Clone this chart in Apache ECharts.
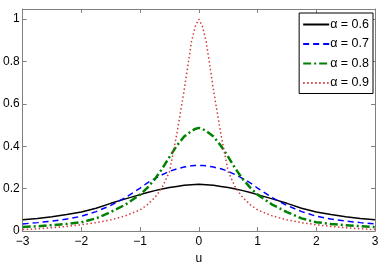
<!DOCTYPE html>
<html>
<head>
<meta charset="utf-8">
<script src="https://cdn.jsdelivr.net/npm/echarts@6/dist/echarts.min.js"></script>
<style>html,body{margin:0;padding:0;background:#fff}#c{width:382px;height:270px}</style>
</head>
<body>
<div id="c"></div>
<script>
// u grid (left half, mirrored below)
var uHalf = [-3, -2.75, -2.5, -2.25, -2, -1.75, -1.5, -1.25, -1, -0.875, -0.75, -0.625, -0.5, -0.375, -0.25, -0.125, -0.0625, 0];
var a06Half = [0.053, 0.060, 0.068, 0.078, 0.090, 0.108, 0.131, 0.152, 0.172, 0.182, 0.191, 0.199, 0.206, 0.211, 0.216, 0.219, 0.220, 0.221];
var a07Half = [0.034, 0.040, 0.047, 0.057, 0.070, 0.092, 0.121, 0.158, 0.203, 0.228, 0.248, 0.266, 0.282, 0.294, 0.302, 0.308, 0.309, 0.310];
var a08Half = [0.019, 0.023, 0.028, 0.034, 0.042, 0.060, 0.090, 0.125, 0.172, 0.205, 0.245, 0.294, 0.350, 0.403, 0.446, 0.472, 0.482, 0.487];
var a09Half = [0.007, 0.011, 0.016, 0.022, 0.030, 0.040, 0.053, 0.072, 0.100, 0.125, 0.158, 0.205, 0.280, 0.458, 0.665, 0.894, 0.965, 1.000];
var legendNames = ['α = 0.6', 'α = 0.7', 'α = 0.8', 'α = 0.9'];
var yTicks = [0, 0.2, 0.4, 0.6, 0.8, 1];

function full(half) {
  var out = half.slice();
  for (var i = half.length - 2; i >= 0; i--) out.push(half[i]);
  return out;
}
var uFull = uHalf.slice();
for (var i = uHalf.length - 2; i >= 0; i--) uFull.push(-uHalf[i]);

function pairs(vals) { return uFull.map(function (u, i) { return [u, vals[i]]; }); }

var axisGray = '#808080';
var font = 'Liberation Sans, Arial, sans-serif';
var chart = echarts.init(document.getElementById('c'), null, {renderer: 'canvas'});

function mkSeries(name, vals, color, width, type) {
  return {
    name: name, type: 'line', data: pairs(full(vals)), showSymbol: false, symbol: 'none',
    lineStyle: {color: color, width: width, type: type}, itemStyle: {color: color},
    xAxisIndex: 0, yAxisIndex: 0, animation: false, z: 3
  };
}
function axisCommon() {
  return {
    axisLine: {show: true, onZero: false, lineStyle: {color: axisGray}},
    axisTick: {show: true, inside: true, length: 4, lineStyle: {color: axisGray}},
    splitLine: {show: false}
  };
}

var xMain = Object.assign(axisCommon(), {
  type: 'value', min: -3, max: 3, interval: 1, position: 'bottom',
  name: 'u', nameLocation: 'middle', nameGap: 21,
  nameTextStyle: {fontFamily: font, fontSize: 12, color: '#000'},
  axisLabel: {fontFamily: font, fontSize: 12, color: '#000', margin: 5,
    formatter: function (v) { return String(v).replace('-', '−'); }}
});
var xTop = Object.assign(axisCommon(), {
  type: 'value', min: -3, max: 3, interval: 1, position: 'top', axisLabel: {show: false}
});
var yMain = Object.assign(axisCommon(), {
  type: 'value', min: 0, max: 1.048, interval: 0.2, position: 'left',
  axisLabel: {fontFamily: font, fontSize: 12, color: '#000', margin: 3,
    formatter: function (v) { var r = Math.round(v * 10) / 10; return yTicks.indexOf(r) >= 0 ? String(r) : ''; }}
});
var yRight = Object.assign(axisCommon(), {
  type: 'value', min: 0, max: 1.048, interval: 0.2, position: 'right', axisLabel: {show: false}
});

chart.setOption({
  animation: false,
  grid: {left: 21, right: 7, top: 9, bottom: 33},
  legend: {
    orient: 'vertical', right: 9, top: 13, data: legendNames,
    itemWidth: 26, itemHeight: 12, itemGap: 6.5,
    padding: [5, 4, 4, 3], borderColor: '#000', borderWidth: 1, backgroundColor: '#fff',
    itemStyle: {opacity: 0},
    textStyle: {fontFamily: font, fontSize: 12.5, color: '#000', padding: [0, 0, 0, -4]}
  },
  xAxis: [xMain, xTop],
  yAxis: [yMain, yRight],
  series: [
    mkSeries(legendNames[0], a06Half, '#000000', 1.5, 'solid'),
    mkSeries(legendNames[1], a07Half, '#0000ff', 1.5, [6, 4]),
    mkSeries(legendNames[2], a08Half, '#008000', 2.5, [8, 3, 2, 3]),
    mkSeries(legendNames[3], a09Half, '#d03c3c', 1.5, [1.5, 2.5])
  ]
});
</script>
</body>
</html>
